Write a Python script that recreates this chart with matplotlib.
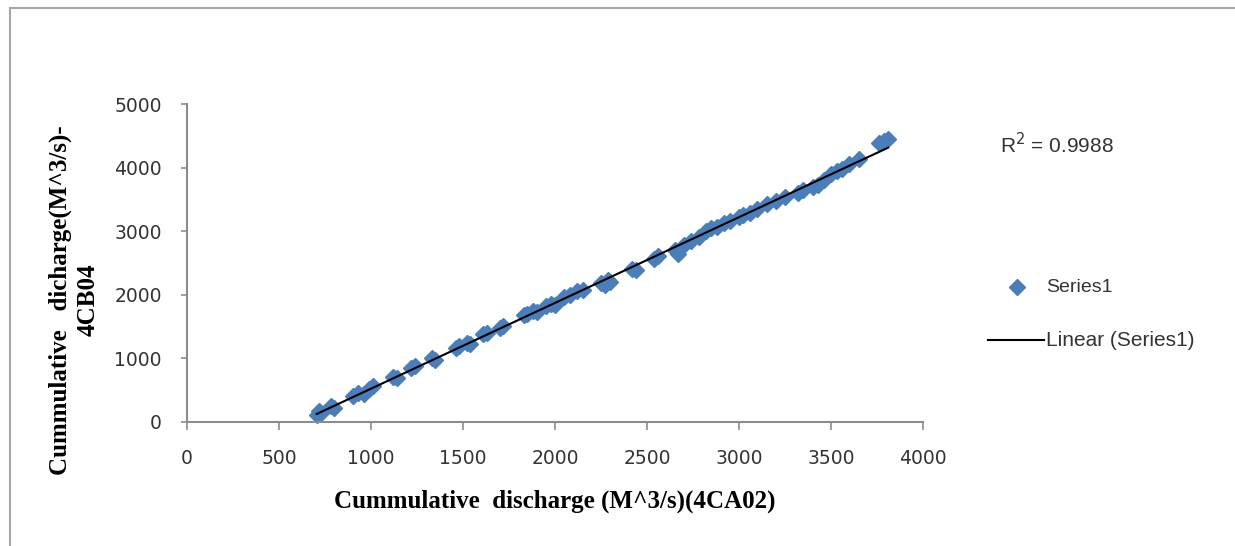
import numpy as np
import matplotlib
matplotlib.use("Agg")
import matplotlib.pyplot as plt
from matplotlib.lines import Line2D

# Data
x_vals = [705, 715, 730, 780, 800, 900, 930, 960, 990, 1010, 1120, 1140, 1220, 1240,
          1330, 1350, 1460, 1480, 1520, 1540, 1610, 1630, 1700, 1720, 1830, 1850, 1880,
          1900, 1950, 1980, 2000, 2050, 2080, 2120, 2150, 2250, 2270, 2290, 2300, 2420,
          2440, 2540, 2560, 2650, 2670, 2700, 2740, 2780, 2820, 2850, 2880, 2920, 2950,
          3000, 3020, 3060, 3100, 3150, 3200, 3250, 3320, 3350, 3400, 3430, 3460, 3500,
          3530, 3560, 3600, 3650, 3760, 3790, 3810]
y_vals = [110, 170, 140, 250, 220, 400, 450, 430, 520, 560, 700, 680, 850, 880,
          1000, 970, 1160, 1190, 1240, 1220, 1380, 1400, 1470, 1500, 1680, 1700, 1750,
          1720, 1820, 1860, 1840, 1960, 1990, 2050, 2080, 2180, 2150, 2230, 2200, 2400,
          2380, 2560, 2600, 2700, 2640, 2780, 2850, 2900, 3000, 3050, 3060, 3120, 3160,
          3220, 3260, 3280, 3350, 3420, 3470, 3530, 3600, 3650, 3700, 3720, 3800, 3900,
          3950, 3980, 4050, 4130, 4380, 4420, 4450]
x_ticks = [0, 500, 1000, 1500, 2000, 2500, 3000, 3500, 4000]
y_ticks = [0, 1000, 2000, 3000, 4000, 5000]
r2_text = "R$^2$ = 0.9988"
series_name = "Series1"
trend_name = "Linear (Series1)"
x_label = "Cummulative  discharge (M^3/s)(4CA02)"
y_label = "Cummulative   dicharge(M^3/s)-\n4CB04"

W, H = 1235, 546
fig = plt.figure(figsize=(W / 100, H / 100), dpi=100)
fig.patch.set_facecolor("white")

# outer frame (top and left edges visible)
fig.add_artist(Line2D([10 / W, 10 / W], [0, 1 - 8 / H], transform=fig.transFigure,
                      color="#a6a6a6", lw=1.5))
fig.add_artist(Line2D([10 / W, 1], [1 - 8 / H, 1 - 8 / H], transform=fig.transFigure,
                      color="#a6a6a6", lw=1.5))

x0, x1, yb, yt = 187, 923, 421.7, 104
ax = fig.add_axes([x0 / W, 1 - yb / H, (x1 - x0) / W, (yb - yt) / H])
ax.set_xlim(0, 4000)
ax.set_ylim(0, 5000)

blue = "#4a7ebb"
ax.plot(x_vals, y_vals, linestyle="none", marker="D", markersize=8,
        color=blue, markeredgecolor=blue, zorder=2, clip_on=False)
coef = np.polyfit(x_vals, y_vals, 1)
xs = np.array([min(x_vals), max(x_vals)])
ax.plot(xs, np.polyval(coef, xs), color="black", lw=1.5, zorder=3)

for s in ["top", "right"]:
    ax.spines[s].set_visible(False)
for s in ["left", "bottom"]:
    ax.spines[s].set_color("#8c8c8c")
    ax.spines[s].set_linewidth(1.5)

tick_font = dict(fontfamily="DejaVu Sans", fontsize=13.5, color="#333333")
ax.set_xticks(x_ticks)
ax.set_yticks(y_ticks)
ax.set_xticklabels([str(v) for v in x_ticks], **tick_font)
ax.set_yticklabels([str(v) for v in y_ticks], **tick_font)
ax.tick_params(axis="x", direction="out", length=6, width=1.2, color="#8c8c8c", pad=14)
ax.tick_params(axis="y", direction="out", length=4, width=1.2, color="#8c8c8c", pad=14)

ax.set_xlabel(x_label, fontfamily="Liberation Serif", fontweight="bold", fontsize=18,
              va="center")
ax.xaxis.set_label_coords((555 - x0) / (x1 - x0), -(501 - yb) / (yb - yt))
ax.set_ylabel(y_label, fontfamily="Liberation Serif", fontweight="bold", fontsize=18,
              linespacing=1.3, ha="center", va="center")
ax.yaxis.set_label_coords(-(x0 - 74) / (x1 - x0), (yb - 300) / (yb - yt))

fig.text(1000 / W, 1 - 145 / H, r2_text, fontfamily="Liberation Sans", fontsize=15,
         va="center", ha="left", color="#333333")

# legend
fig.add_artist(Line2D([1017 / W], [1 - 287 / H], transform=fig.transFigure, marker="D",
                      markersize=8, color=blue, linestyle="none"))
fig.text(1046 / W, 1 - 287 / H, series_name, fontfamily="Liberation Sans", fontsize=14,
         va="center", ha="left", color="#333333")
fig.add_artist(Line2D([988 / W, 1044 / W], [1 - 340 / H, 1 - 340 / H],
                      transform=fig.transFigure, color="black", lw=1.5))
fig.text(1046 / W, 1 - 340 / H, trend_name, fontfamily="Liberation Sans", fontsize=15,
         va="center", ha="left", color="#333333")

fig.savefig("out.png", dpi=100, facecolor="white")
